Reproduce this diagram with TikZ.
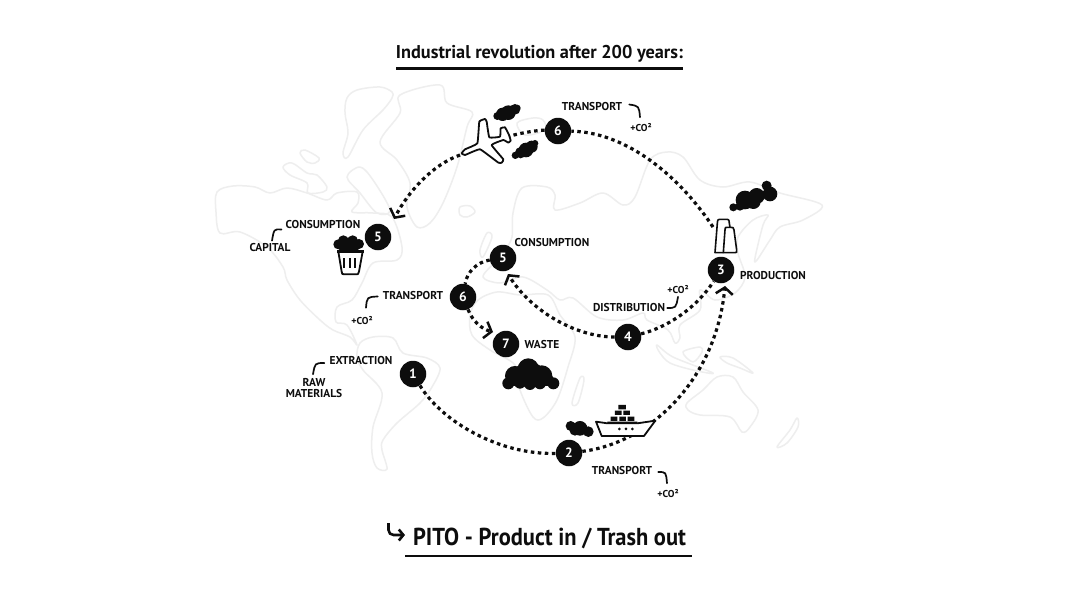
\documentclass[tikz,border=0pt]{standalone}
\usepackage{fontspec}
\setmainfont{PT Sans}
\usetikzlibrary{arrows.meta,calc}
\definecolor{mapgrey}{HTML}{EEEEEE}
\definecolor{ink}{HTML}{0D0D0D}
\tikzset{
  land/.style={smooth cycle,tension=0.55},
  landmass/.style={draw=mapgrey,line width=1.5pt,line join=round},
  dotline/.style={draw=ink,line width=3.2pt,dash pattern=on 3.5pt off 3.5pt},
  barbtip/.style={-{Straight Barb[length=6.5pt,width=17pt,line width=2.5pt]}},
  num/.style={circle,fill=ink,text=white,minimum size=26.5pt,inner sep=0pt,font=\bfseries\fontsize{13.5}{13.5}\selectfont},
  lab/.style={text=ink,inner sep=0pt,font=\bfseries\fontsize{11.4}{11.4}\selectfont,align=center},
  cotwo/.style={text=ink,inner sep=0pt,font=\bfseries\fontsize{10}{10}\selectfont},
  tick/.style={draw=ink,line width=1.7pt,line cap=round},
  icon/.style={draw=ink,line width=1.6pt,fill=white,line join=round},
  blob/.style={fill=ink},
}
\begin{document}
\begin{tikzpicture}[x=1pt,y=-1pt]
\useasboundingbox (0,0) rectangle (1080,608);
\fill[white] (0,0) rectangle (1080,608);
% --- map ---
\draw[landmass] plot[land] coordinates {(392,92)(380,87)(357,90)(347,98)(345,113)(348,133)(343,153)(348,157)(363,130)(383,110)(392,98)};
\draw[landmass] plot[land] coordinates {(400,95)(440,85)(447,103)(472,112)(467,127)(457,167)(443,203)(430,223)(417,227)(407,207)(410,183)(397,160)(380,142)(400,113)};
\draw[landmass] plot[land] coordinates {(300,153)(305,150)(319,158)(315,163)(307,162)};
\draw[landmass] plot[land] coordinates {(283,167)(292,163)(307,173)(317,175)(327,187)(323,192)(308,193)(307,183)(290,175)};
\draw[landmass] plot[land] coordinates {(347,177)(360,167)(373,180)(390,210)(377,213)(360,193)};
\draw[landmass] plot[land] coordinates {(460,207)(470,206)(475,212)(467,217)(460,215)};
\draw[landmass] plot[land] coordinates {(217,192)(233,186)(255,187)(270,193)(287,188)(307,193)(327,200)(337,193)(357,192)(358,203)(352,212)(373,213)(392,217)(402,247)(397,260)(373,263)(362,283)(352,300)(337,307)(336,322)(347,325)(357,345)(350,337)(333,330)(320,320)(300,300)(287,280)(283,267)(267,247)(240,232)(220,233)(216,212)};
\draw[landmass] plot[land] coordinates {(360,343)(373,337)(393,338)(403,353)(427,358)(440,368)(432,387)(420,403)(397,423)(383,440)(382,450)(387,469)(377,468)(372,453)(373,427)(382,393)(363,370)(357,357)};
\draw[landmass] plot[land] coordinates {(517,123)(533,118)(543,120)(545,130)(525,135)};
\draw[landmass] plot[land] coordinates {(487,233)(492,237)(483,257)(480,250)};
\draw[landmass] plot[land] coordinates {(512,237)(513,213)(522,188)(547,187)(555,195)(555,210)(580,203)(603,193)(623,205)(635,197)(650,160)(667,152)(683,157)(700,180)(723,187)(750,182)(780,193)(822,205)(803,220)(780,227)(770,240)(757,260)(755,258)(763,225)(768,215)(753,220)(738,237)(738,253)(745,277)(735,293)(715,300)(700,290)(700,310)(680,325)(680,338)(675,343)(668,330)(647,320)(643,313)(623,320)(597,317)(573,298)(560,300)(547,290)(523,277)(500,283)(483,277)(495,262)(505,250)};
\draw[landmass] plot[land] coordinates {(478,300)(497,292)(520,295)(548,295)(560,315)(575,337)(568,367)(557,400)(543,418)(533,417)(520,390)(515,365)(490,350)(472,335)(470,315)};
\draw[landmass] plot[land] coordinates {(580,378)(584,380)(578,403)(572,403)};
\draw[landmass] plot[land] coordinates {(687,403)(703,390)(717,377)(733,377)(743,392)(758,410)(750,427)(742,432)(730,417)(700,415)(688,410)};
\draw[landmass] plot[land] coordinates {(797,418)(798,427)(787,443)(777,447)(790,430)};
\draw[landmass] plot[land] coordinates {(657,345)(673,357)(713,373)(693,370)(670,363)(660,353)};
\draw[landmass] plot[land] coordinates {(683,352)(700,347)(702,352)(693,362)};
\draw[landmass] plot[land] coordinates {(720,357)(733,358)(753,373)(740,368)(727,363)};
% --- title ---
\node[inner sep=0pt,text=ink] (title) at (539.5,53.5) {\resizebox{287pt}{\height}{\bfseries\fontsize{18.5}{18}\selectfont Industrial revolution after 200 years:}};
\node[inner sep=0pt,text=ink] (pito) at (549.5,538) {\resizebox{273pt}{\height}{\bfseries\fontsize{24.5}{24}\selectfont PITO - Product in / Trash out}};
\coordinate (titleruleL) at (396,68.5);
\coordinate (titleruleR) at (683,68.5);
\coordinate (pitoruleL) at (405,556);
\coordinate (pitoruleR) at (692,556);
\draw[ink,line width=2.8pt] (titleruleL) -- (titleruleR);
\draw[ink,line width=2.4pt] (pitoruleL) -- (pitoruleR);
\coordinate (hook) at (388.5,523);
\coordinate (hookend) at (405,535);
\draw[ink,line width=2.6pt,rounded corners=5pt,-{Straight Barb[length=4.5pt,width=11pt,line width=2.6pt]}] (hook) |- (hookend);
% --- numbered nodes ---
\node[num] (n1) at (413,374) {1};
\node[num] (n2) at (569,453) {2};
\node[num] (n3) at (721,270) {3};
\node[num] (n4) at (628,337) {4};
\node[num] (n5a) at (378,237) {5};
\node[num] (n5b) at (503,258) {5};
\node[num] (n6a) at (558,131) {6};
\node[num] (n6b) at (463,297) {6};
\node[num] (n7) at (506,344) {7};
% --- free ends ---
\coordinate (plantL) at (713,227);
\coordinate (planeTail) at (510,136);
\coordinate (planeNose) at (460,155);
\coordinate (tip5a) at (394,219);
\coordinate (tip3) at (725,286);
\coordinate (tip5b) at (508,274);
\coordinate (tip7) at (493,332);
% --- connectors ---
\draw[dotline] (n1) .. controls (442,422) and (500,455) .. (n2);
\draw[dotline,barbtip] (n2) .. controls (650,443) and (716,380) .. (tip3);
\draw[dotline] (n4) .. controls (665,328) and (695,310) .. (n3);
\draw[dotline,barbtip] (n4) .. controls (575,337) and (530,310) .. (tip5b);
\draw[dotline] (n5b) .. controls (477,262) and (467,272) .. (n6b);
\draw[dotline,barbtip] (n6b) .. controls (473,322) and (482,329) .. (tip7);
\draw[dotline] (plantL) .. controls (675,170) and (622,132) .. (n6a);
\draw[dotline] (n6a) .. controls (540,130) and (525,132) .. (planeTail);
\draw[dotline,barbtip] (planeNose) .. controls (432,165) and (408,192) .. (tip5a);
% --- plane ---
\begin{scope}[shift={(440,80)},scale=0.3333]
\draw[icon,line width=1.8pt] plot[smooth cycle,tension=0.2] coordinates {(65,220)(75,208)(112,190)(118,125)(135,117)(140,125)(148,172)(180,170)(182,145)(195,142)(207,165)(212,182)(205,188)(190,180)(155,195)(190,238)(185,248)(175,248)(120,208)(75,225)};
\fill[blob] foreach \x/\y/\r in {172/108/12,188/103/20,205/98/22,225/88/16,232/84/10} {(\x,\y) circle (\r)};
\fill[blob] foreach \x/\y/\r in {226/226/11,242/218/17,258/210/22,275/200/18,285/190/10} {(\x,\y) circle (\r)};
\end{scope}
% --- plant and cloud ---
\begin{scope}[shift={(640,170)},scale=0.3333]
\draw[icon] (250,248) -- (225,248) -- (232,160) .. controls (233,148) .. (245,148) -- (255,148) .. controls (267,148) .. (268,160) -- (270,172);
\draw[icon] (250,248) -- (255,180) .. controls (255,172) .. (265,172) -- (272,172) .. controls (280,172) .. (282,180) -- (290,240) .. controls (291,248) .. (283,248) -- cycle;
\fill[blob] foreach \x/\y/\r in {380/47/15,390/72/22,350/78/24,315/90/28,280/112/12,300/108/14,340/95/22} {(\x,\y) circle (\r)};
\end{scope}
% --- bin ---
\begin{scope}[shift={(200,70)},scale=0.3333]
\draw[icon,line width=1.8pt] (415,545) -- (425,605) .. controls (426,613) .. (435,613) -- (465,613) .. controls (475,613) .. (477,605) -- (488,545);
\draw[ink,line width=2.6pt] (412,544) -- (491,544);
\draw[ink,line width=1.8pt] (433,565) -- (433,595) (449,565) -- (449,595) (465,565) -- (465,595);
\fill[blob] foreach \x/\y/\r in {445/525/22,415/523/15,477/522/15,430/512/16,458/512/16,440/530/18,465/530/14,425/532/10} {(\x,\y) circle (\r)};
\end{scope}
% --- waste cloud ---
\begin{scope}[shift={(440,220)},scale=0.3333]
\fill[blob] foreach \x/\y/\r in {265/447/32,225/468/30,305/468/32,205/490/18,340/490/18,240/488/18,270/492/18,300/490/18,320/478/20,250/460/28,285/460/28} {(\x,\y) circle (\r)};
\end{scope}
% --- ship ---
\begin{scope}[shift={(500,280)},scale=0.3333]
\fill[blob] foreach \x/\y/\r in {240/445/22,212/438/15,265/455/16,225/450/17} {(\x,\y) circle (\r)};
\draw[icon,line width=1.8pt] (288,425) -- (322,430) -- (412,430) -- (466,422) -- (432,468) -- (305,468) -- cycle;
\fill[ink] (355,375) rectangle (378,388) (345,392) rectangle (365,405) (370,392) rectangle (390,405) (332,410) rectangle (352,423) (358,410) rectangle (378,423) (383,410) rectangle (403,423) (322,425) rectangle (412,432);
\fill[ink] (358,447) circle (4.5) (378,447) circle (4.5) (397,447) circle (4.5);
\end{scope}
% --- labels ---
\node[lab] (consA) at (323,224.5) {CONSUMPTION};
\node[lab] (capital) at (270,248) {CAPITAL};
\node[lab] (transA) at (592,106.5) {TRANSPORT};
\node[cotwo] (coA) at (641,127.5) {+CO²};
\node[lab] (prod) at (773,276) {PRODUCTION};
\node[cotwo] (coB) at (678,289.5) {+CO²};
\node[lab] (distr) at (629,308) {DISTRIBUTION};
\node[lab] (consB) at (552,243) {CONSUMPTION};
\node[lab] (transB) at (413,295.5) {TRANSPORT};
\node[cotwo] (coC) at (362,321) {+CO²};
\node[lab] (waste) at (542,345) {WASTE};
\node[lab] (extr) at (361,361) {EXTRACTION};
\node[lab,font=\bfseries\fontsize{11.4}{10.8}\selectfont] (raw) at (314,388) {RAW\\MATERIALS};
\node[lab] (transC) at (622,471) {TRANSPORT};
\node[cotwo] (coD) at (668,493.5) {+CO²};
% --- ticks ---
\draw[tick] ($(consA.west)+(-4,5)$) .. controls (274,229) .. ($(capital.north)+(2,-3)$);
\draw[tick] ($(transA.east)+(7,-2)$) .. controls (639,106) .. ($(coA.north)+(-1,-6)$);
\draw[tick] ($(distr.east)+(2,0)$) .. controls (676,308) .. ($(coB.south)+(0,3)$);
\draw[tick] ($(transB.west)+(-5,1)$) .. controls (367,297) .. ($(coC.north)+(4,-9)$);
\draw[tick] ($(extr.west)+(-5,2)$) .. controls (315,363) .. ($(raw.north)+(-1,-4)$);
\draw[tick] ($(transC.east)+(6,1)$) .. controls (666,472) .. ($(coD.north)+(-1,-6)$);
\end{tikzpicture}
\end{document}
